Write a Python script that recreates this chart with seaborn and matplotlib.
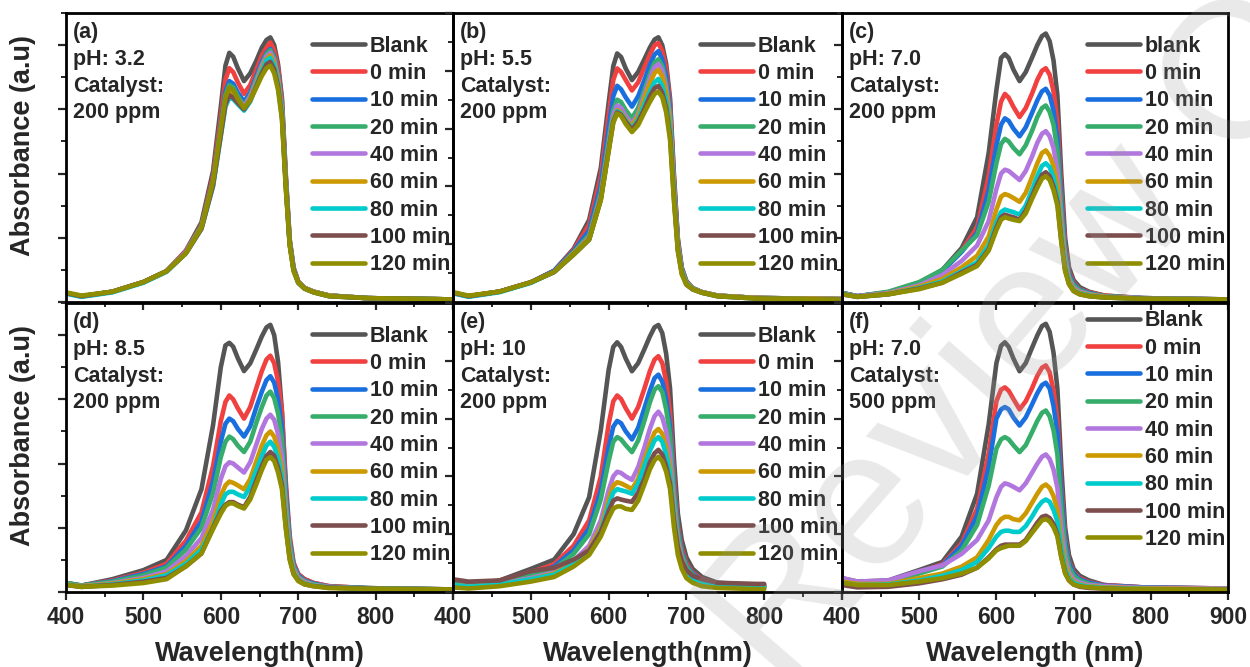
import numpy as np
import pandas as pd
import matplotlib
matplotlib.use("Agg")
import matplotlib.pyplot as plt
import seaborn as sns
from matplotlib.ticker import MultipleLocator

# wavelength grid (nm)
WL = [400, 420, 460, 500, 530, 555, 575, 590, 600, 606, 611, 616, 622, 630, 638, 646,
      653, 659, 664, 669, 674, 679, 684, 689, 694, 700, 708, 720, 740, 790, 900]
# panel (e) was only recorded to 800 nm
WL_E = [400, 420, 460, 500, 530, 555, 575, 590, 600, 606, 611, 616, 622, 630, 638, 646,
        653, 659, 664, 669, 674, 679, 684, 689, 694, 700, 708, 720, 740, 790, 800]

LABELS = ["Blank", "0 min", "10 min", "20 min", "40 min", "60 min",
          "80 min", "100 min", "120 min"]
COLORS = ["#555555", "#F14040", "#1A6FDF", "#37AD6B", "#B177DE",
          "#CC9900", "#00CBCC", "#7D4E4E", "#8E8E00"]

# (a) pH 3.2, 200 ppm
PANEL_A = [
    [0.07, 0.045, 0.08, 0.155, 0.24, 0.40, 0.62, 1.02, 1.52, 1.84, 1.94, 1.91, 1.82, 1.72, 1.78, 1.88, 1.98, 2.04, 2.06, 2.00, 1.85, 1.59, 0.99, 0.49, 0.27, 0.16, 0.11, 0.08, 0.05, 0.03, 0.02],
    [0.07, 0.045, 0.08, 0.155, 0.24, 0.40, 0.60, 0.98, 1.44, 1.73, 1.82, 1.79, 1.71, 1.62, 1.69, 1.81, 1.92, 1.98, 2.02, 1.96, 1.82, 1.56, 0.97, 0.48, 0.26, 0.16, 0.11, 0.08, 0.05, 0.03, 0.02],
    [0.07, 0.045, 0.08, 0.155, 0.24, 0.39, 0.59, 0.95, 1.38, 1.64, 1.72, 1.70, 1.63, 1.56, 1.63, 1.76, 1.87, 1.94, 1.97, 1.91, 1.77, 1.52, 0.95, 0.47, 0.26, 0.16, 0.11, 0.08, 0.05, 0.03, 0.02],
    [0.07, 0.045, 0.08, 0.155, 0.24, 0.39, 0.59, 0.94, 1.36, 1.61, 1.69, 1.67, 1.60, 1.53, 1.61, 1.74, 1.85, 1.93, 1.96, 1.90, 1.76, 1.51, 0.94, 0.47, 0.26, 0.16, 0.11, 0.08, 0.05, 0.03, 0.02],
    [0.07, 0.045, 0.08, 0.155, 0.24, 0.39, 0.58, 0.93, 1.34, 1.58, 1.66, 1.64, 1.58, 1.52, 1.60, 1.72, 1.84, 1.91, 1.94, 1.88, 1.74, 1.49, 0.93, 0.46, 0.26, 0.16, 0.11, 0.08, 0.05, 0.03, 0.02],
    [0.07, 0.045, 0.08, 0.155, 0.24, 0.38, 0.58, 0.92, 1.32, 1.56, 1.64, 1.62, 1.56, 1.50, 1.58, 1.70, 1.82, 1.89, 1.92, 1.86, 1.72, 1.48, 0.92, 0.46, 0.25, 0.16, 0.11, 0.08, 0.05, 0.03, 0.02],
    [0.065, 0.04, 0.075, 0.15, 0.235, 0.38, 0.57, 0.90, 1.29, 1.52, 1.59, 1.58, 1.54, 1.49, 1.56, 1.69, 1.80, 1.88, 1.90, 1.84, 1.70, 1.46, 0.91, 0.45, 0.25, 0.15, 0.105, 0.075, 0.045, 0.03, 0.02],
    [0.07, 0.045, 0.08, 0.155, 0.24, 0.38, 0.57, 0.91, 1.30, 1.54, 1.61, 1.59, 1.55, 1.50, 1.57, 1.68, 1.78, 1.85, 1.87, 1.81, 1.68, 1.44, 0.90, 0.45, 0.25, 0.15, 0.105, 0.075, 0.045, 0.03, 0.02],
    [0.075, 0.05, 0.08, 0.155, 0.24, 0.38, 0.58, 0.94, 1.35, 1.59, 1.67, 1.65, 1.58, 1.51, 1.57, 1.67, 1.76, 1.82, 1.84, 1.78, 1.65, 1.42, 0.88, 0.44, 0.24, 0.15, 0.105, 0.075, 0.045, 0.03, 0.02],
]

# (b) pH 5.5, 200 ppm
PANEL_B = [
    [0.08, 0.05, 0.09, 0.17, 0.27, 0.46, 0.71, 1.16, 1.72, 2.04, 2.15, 2.12, 2.02, 1.92, 1.99, 2.10, 2.20, 2.27, 2.29, 2.22, 2.06, 1.76, 1.10, 0.55, 0.30, 0.18, 0.12, 0.085, 0.055, 0.035, 0.025],
    [0.08, 0.05, 0.09, 0.17, 0.27, 0.45, 0.67, 1.09, 1.62, 1.92, 2.02, 1.99, 1.92, 1.83, 1.90, 2.03, 2.14, 2.22, 2.24, 2.17, 2.02, 1.72, 1.08, 0.54, 0.29, 0.18, 0.12, 0.085, 0.055, 0.035, 0.025],
    [0.08, 0.05, 0.09, 0.17, 0.27, 0.44, 0.62, 1.01, 1.50, 1.78, 1.87, 1.84, 1.77, 1.69, 1.78, 1.92, 2.05, 2.14, 2.17, 2.10, 1.95, 1.67, 1.04, 0.52, 0.29, 0.17, 0.12, 0.085, 0.055, 0.035, 0.025],
    [0.08, 0.05, 0.09, 0.17, 0.26, 0.43, 0.58, 0.95, 1.40, 1.66, 1.75, 1.73, 1.66, 1.59, 1.68, 1.83, 1.97, 2.07, 2.10, 2.04, 1.89, 1.62, 1.01, 0.50, 0.28, 0.17, 0.12, 0.085, 0.055, 0.035, 0.025],
    [0.08, 0.05, 0.09, 0.17, 0.26, 0.42, 0.56, 0.92, 1.36, 1.62, 1.70, 1.68, 1.61, 1.54, 1.63, 1.79, 1.93, 2.03, 2.06, 2.00, 1.85, 1.59, 0.99, 0.49, 0.27, 0.16, 0.115, 0.085, 0.055, 0.035, 0.025],
    [0.08, 0.05, 0.09, 0.17, 0.26, 0.42, 0.55, 0.90, 1.33, 1.58, 1.66, 1.64, 1.58, 1.52, 1.61, 1.76, 1.89, 1.98, 2.01, 1.95, 1.81, 1.55, 0.96, 0.48, 0.27, 0.16, 0.115, 0.085, 0.055, 0.035, 0.025],
    [0.075, 0.045, 0.085, 0.165, 0.26, 0.41, 0.54, 0.89, 1.32, 1.57, 1.65, 1.63, 1.57, 1.50, 1.58, 1.71, 1.82, 1.90, 1.93, 1.87, 1.74, 1.49, 0.93, 0.46, 0.26, 0.155, 0.11, 0.08, 0.05, 0.03, 0.02],
    [0.08, 0.05, 0.09, 0.17, 0.26, 0.41, 0.54, 0.89, 1.31, 1.56, 1.64, 1.62, 1.56, 1.49, 1.56, 1.67, 1.78, 1.85, 1.87, 1.81, 1.68, 1.44, 0.90, 0.45, 0.25, 0.15, 0.11, 0.08, 0.05, 0.03, 0.02],
    [0.085, 0.055, 0.09, 0.17, 0.26, 0.41, 0.54, 0.88, 1.30, 1.55, 1.63, 1.61, 1.54, 1.47, 1.53, 1.64, 1.73, 1.80, 1.82, 1.77, 1.64, 1.40, 0.87, 0.44, 0.24, 0.15, 0.11, 0.08, 0.05, 0.03, 0.02],
]

# (c) pH 7.0, 200 ppm
PANEL_C = [
    [0.07, 0.045, 0.075, 0.15, 0.25, 0.42, 0.66, 1.16, 1.65, 1.90, 1.93, 1.90, 1.81, 1.72, 1.79, 1.90, 2.00, 2.07, 2.09, 2.03, 1.88, 1.61, 1.00, 0.50, 0.27, 0.17, 0.115, 0.08, 0.05, 0.03, 0.02],
    [0.07, 0.045, 0.075, 0.15, 0.24, 0.40, 0.58, 0.98, 1.38, 1.56, 1.62, 1.59, 1.52, 1.44, 1.51, 1.62, 1.73, 1.80, 1.82, 1.77, 1.64, 1.40, 0.87, 0.44, 0.24, 0.15, 0.10, 0.075, 0.05, 0.03, 0.02],
    [0.07, 0.045, 0.075, 0.15, 0.24, 0.39, 0.54, 0.87, 1.22, 1.38, 1.43, 1.41, 1.35, 1.29, 1.36, 1.47, 1.57, 1.64, 1.66, 1.61, 1.49, 1.28, 0.80, 0.40, 0.22, 0.14, 0.095, 0.07, 0.045, 0.03, 0.02],
    [0.07, 0.045, 0.08, 0.155, 0.25, 0.40, 0.52, 0.78, 1.08, 1.23, 1.27, 1.25, 1.20, 1.15, 1.22, 1.33, 1.44, 1.51, 1.53, 1.48, 1.38, 1.18, 0.73, 0.37, 0.20, 0.13, 0.09, 0.065, 0.045, 0.03, 0.02],
    [0.065, 0.045, 0.07, 0.13, 0.21, 0.32, 0.44, 0.63, 0.88, 1.00, 1.03, 1.02, 0.99, 0.95, 1.02, 1.13, 1.24, 1.31, 1.33, 1.29, 1.20, 1.02, 0.64, 0.32, 0.18, 0.11, 0.08, 0.06, 0.04, 0.03, 0.02],
    [0.065, 0.04, 0.065, 0.12, 0.18, 0.27, 0.36, 0.51, 0.72, 0.82, 0.84, 0.83, 0.81, 0.78, 0.85, 0.97, 1.08, 1.16, 1.18, 1.14, 1.06, 0.91, 0.57, 0.29, 0.16, 0.10, 0.07, 0.055, 0.04, 0.025, 0.02],
    [0.065, 0.04, 0.06, 0.11, 0.16, 0.24, 0.31, 0.44, 0.62, 0.70, 0.72, 0.71, 0.70, 0.68, 0.75, 0.87, 0.98, 1.06, 1.08, 1.05, 0.97, 0.83, 0.52, 0.27, 0.15, 0.09, 0.065, 0.05, 0.035, 0.025, 0.02],
    [0.06, 0.04, 0.06, 0.105, 0.15, 0.23, 0.29, 0.41, 0.58, 0.66, 0.68, 0.67, 0.66, 0.64, 0.71, 0.82, 0.92, 0.99, 1.01, 0.98, 0.90, 0.78, 0.48, 0.25, 0.14, 0.085, 0.06, 0.045, 0.035, 0.025, 0.02],
    [0.06, 0.04, 0.06, 0.10, 0.15, 0.22, 0.28, 0.40, 0.56, 0.64, 0.66, 0.65, 0.64, 0.63, 0.69, 0.80, 0.89, 0.96, 0.98, 0.95, 0.87, 0.75, 0.47, 0.24, 0.14, 0.085, 0.06, 0.045, 0.035, 0.025, 0.02],
]

# (d) pH 8.5, 200 ppm
PANEL_D = [
    [0.07, 0.05, 0.10, 0.17, 0.25, 0.48, 0.80, 1.30, 1.75, 1.92, 1.94, 1.91, 1.82, 1.72, 1.78, 1.89, 1.99, 2.06, 2.08, 2.00, 1.79, 1.41, 0.80, 0.40, 0.22, 0.14, 0.10, 0.07, 0.045, 0.03, 0.02],
    [0.07, 0.05, 0.09, 0.15, 0.22, 0.40, 0.62, 0.98, 1.33, 1.48, 1.53, 1.50, 1.43, 1.35, 1.44, 1.59, 1.72, 1.81, 1.84, 1.78, 1.64, 1.40, 0.86, 0.44, 0.23, 0.14, 0.10, 0.07, 0.045, 0.03, 0.02],
    [0.07, 0.05, 0.085, 0.14, 0.20, 0.36, 0.55, 0.86, 1.17, 1.31, 1.35, 1.33, 1.27, 1.21, 1.29, 1.44, 1.56, 1.65, 1.68, 1.63, 1.50, 1.28, 0.79, 0.40, 0.21, 0.13, 0.09, 0.065, 0.04, 0.03, 0.02],
    [0.07, 0.05, 0.08, 0.13, 0.19, 0.33, 0.50, 0.77, 1.05, 1.17, 1.21, 1.19, 1.14, 1.09, 1.17, 1.32, 1.44, 1.53, 1.56, 1.51, 1.39, 1.19, 0.73, 0.37, 0.20, 0.12, 0.085, 0.06, 0.04, 0.03, 0.02],
    [0.06, 0.045, 0.07, 0.11, 0.16, 0.28, 0.42, 0.64, 0.88, 0.98, 1.01, 1.00, 0.97, 0.93, 1.01, 1.15, 1.27, 1.35, 1.38, 1.34, 1.23, 1.05, 0.65, 0.33, 0.18, 0.11, 0.08, 0.055, 0.04, 0.025, 0.02],
    [0.06, 0.045, 0.065, 0.10, 0.14, 0.24, 0.36, 0.55, 0.75, 0.83, 0.86, 0.85, 0.83, 0.80, 0.88, 1.02, 1.14, 1.22, 1.25, 1.21, 1.11, 0.95, 0.59, 0.30, 0.16, 0.10, 0.07, 0.05, 0.035, 0.025, 0.02],
    [0.06, 0.04, 0.06, 0.09, 0.13, 0.22, 0.33, 0.50, 0.68, 0.76, 0.78, 0.78, 0.76, 0.74, 0.82, 0.95, 1.06, 1.14, 1.17, 1.13, 1.04, 0.89, 0.55, 0.28, 0.15, 0.095, 0.065, 0.05, 0.035, 0.025, 0.02],
    [0.055, 0.04, 0.055, 0.08, 0.11, 0.20, 0.30, 0.50, 0.63, 0.68, 0.70, 0.70, 0.68, 0.66, 0.74, 0.87, 0.98, 1.06, 1.09, 1.06, 0.97, 0.83, 0.51, 0.26, 0.14, 0.09, 0.06, 0.045, 0.035, 0.025, 0.02],
    [0.055, 0.04, 0.05, 0.07, 0.10, 0.20, 0.30, 0.49, 0.61, 0.67, 0.69, 0.69, 0.67, 0.65, 0.72, 0.84, 0.95, 1.03, 1.05, 1.02, 0.93, 0.80, 0.49, 0.25, 0.14, 0.085, 0.06, 0.045, 0.03, 0.025, 0.02],
]

# (e) pH 10, 200 ppm
PANEL_E = [
    [0.08, 0.06, 0.10, 0.20, 0.28, 0.50, 0.82, 1.40, 1.92, 2.12, 2.16, 2.12, 2.02, 1.91, 1.98, 2.10, 2.21, 2.29, 2.31, 2.24, 2.06, 1.76, 1.15, 0.68, 0.45, 0.30, 0.20, 0.13, 0.08, 0.06, 0.06],
    [0.08, 0.06, 0.09, 0.17, 0.24, 0.40, 0.62, 1.00, 1.45, 1.65, 1.70, 1.67, 1.59, 1.50, 1.60, 1.76, 1.91, 2.01, 2.04, 1.98, 1.82, 1.55, 1.00, 0.58, 0.38, 0.25, 0.17, 0.11, 0.07, 0.05, 0.05],
    [0.07, 0.05, 0.08, 0.15, 0.22, 0.36, 0.55, 0.88, 1.25, 1.43, 1.48, 1.46, 1.39, 1.32, 1.42, 1.59, 1.74, 1.85, 1.88, 1.82, 1.67, 1.43, 0.92, 0.54, 0.35, 0.23, 0.16, 0.10, 0.07, 0.05, 0.05],
    [0.07, 0.05, 0.08, 0.14, 0.20, 0.33, 0.50, 0.80, 1.13, 1.30, 1.34, 1.32, 1.27, 1.21, 1.31, 1.48, 1.64, 1.75, 1.78, 1.73, 1.58, 1.35, 0.87, 0.51, 0.33, 0.22, 0.15, 0.09, 0.06, 0.045, 0.045],
    [0.06, 0.045, 0.07, 0.12, 0.17, 0.27, 0.40, 0.62, 0.88, 1.00, 1.04, 1.03, 1.00, 0.97, 1.08, 1.25, 1.41, 1.52, 1.56, 1.51, 1.39, 1.19, 0.76, 0.45, 0.29, 0.19, 0.13, 0.08, 0.055, 0.04, 0.04],
    [0.06, 0.045, 0.065, 0.11, 0.16, 0.25, 0.37, 0.56, 0.80, 0.92, 0.95, 0.94, 0.92, 0.89, 0.98, 1.14, 1.28, 1.38, 1.41, 1.37, 1.25, 1.07, 0.69, 0.41, 0.27, 0.18, 0.12, 0.075, 0.05, 0.04, 0.04],
    [0.06, 0.045, 0.065, 0.11, 0.15, 0.24, 0.35, 0.53, 0.75, 0.86, 0.89, 0.88, 0.87, 0.85, 0.94, 1.09, 1.22, 1.31, 1.34, 1.30, 1.19, 1.02, 0.66, 0.39, 0.26, 0.17, 0.11, 0.07, 0.05, 0.035, 0.035],
    [0.11, 0.09, 0.10, 0.18, 0.21, 0.28, 0.36, 0.52, 0.70, 0.79, 0.81, 0.80, 0.79, 0.78, 0.86, 0.98, 1.12, 1.20, 1.23, 1.19, 1.09, 0.94, 0.62, 0.39, 0.27, 0.19, 0.14, 0.11, 0.08, 0.07, 0.07],
    [0.04, 0.03, 0.05, 0.09, 0.13, 0.22, 0.32, 0.48, 0.64, 0.72, 0.74, 0.74, 0.72, 0.71, 0.79, 0.93, 1.06, 1.14, 1.17, 1.13, 1.04, 0.89, 0.56, 0.32, 0.20, 0.12, 0.08, 0.05, 0.035, 0.025, 0.025],
]

# (f) pH 7.0, 500 ppm
PANEL_F = [
    [0.12, 0.09, 0.10, 0.19, 0.26, 0.48, 0.85, 1.45, 1.98, 2.13, 2.16, 2.12, 2.02, 1.91, 1.98, 2.11, 2.22, 2.30, 2.32, 2.25, 2.07, 1.76, 1.09, 0.56, 0.32, 0.20, 0.14, 0.10, 0.06, 0.04, 0.03],
    [0.11, 0.08, 0.09, 0.17, 0.24, 0.42, 0.72, 1.20, 1.65, 1.75, 1.77, 1.74, 1.67, 1.58, 1.65, 1.76, 1.87, 1.94, 1.96, 1.90, 1.74, 1.49, 0.92, 0.48, 0.27, 0.17, 0.12, 0.085, 0.06, 0.04, 0.03],
    [0.11, 0.08, 0.09, 0.17, 0.23, 0.40, 0.66, 1.08, 1.50, 1.58, 1.60, 1.58, 1.51, 1.44, 1.51, 1.62, 1.72, 1.79, 1.81, 1.76, 1.61, 1.38, 0.85, 0.45, 0.25, 0.16, 0.11, 0.08, 0.055, 0.04, 0.03],
    [0.11, 0.08, 0.09, 0.16, 0.22, 0.36, 0.58, 0.92, 1.24, 1.32, 1.34, 1.32, 1.27, 1.21, 1.27, 1.38, 1.48, 1.55, 1.57, 1.52, 1.40, 1.19, 0.74, 0.39, 0.22, 0.14, 0.10, 0.07, 0.05, 0.035, 0.03],
    [0.12, 0.09, 0.10, 0.18, 0.23, 0.33, 0.45, 0.62, 0.82, 0.91, 0.94, 0.93, 0.91, 0.88, 0.94, 1.03, 1.11, 1.17, 1.19, 1.15, 1.06, 0.90, 0.56, 0.30, 0.17, 0.11, 0.08, 0.06, 0.05, 0.035, 0.03],
    [0.09, 0.07, 0.07, 0.12, 0.16, 0.22, 0.30, 0.45, 0.58, 0.63, 0.65, 0.65, 0.63, 0.62, 0.68, 0.77, 0.85, 0.91, 0.93, 0.90, 0.83, 0.71, 0.44, 0.24, 0.14, 0.09, 0.065, 0.05, 0.04, 0.03, 0.025],
    [0.08, 0.06, 0.065, 0.10, 0.14, 0.19, 0.26, 0.38, 0.48, 0.52, 0.53, 0.53, 0.52, 0.52, 0.57, 0.65, 0.73, 0.78, 0.80, 0.78, 0.71, 0.61, 0.38, 0.20, 0.12, 0.08, 0.06, 0.045, 0.035, 0.025, 0.02],
    [0.06, 0.04, 0.045, 0.075, 0.11, 0.15, 0.21, 0.30, 0.37, 0.40, 0.41, 0.41, 0.41, 0.41, 0.45, 0.53, 0.60, 0.65, 0.66, 0.64, 0.59, 0.50, 0.31, 0.17, 0.10, 0.065, 0.045, 0.035, 0.03, 0.02, 0.02],
    [0.08, 0.06, 0.06, 0.09, 0.12, 0.16, 0.21, 0.29, 0.36, 0.38, 0.39, 0.40, 0.40, 0.40, 0.44, 0.51, 0.57, 0.62, 0.63, 0.61, 0.56, 0.48, 0.30, 0.16, 0.10, 0.065, 0.05, 0.04, 0.03, 0.025, 0.02],
]

NOTES = ["(a)\npH: 3.2\nCatalyst:\n200 ppm", "(b)\npH: 5.5\nCatalyst:\n200 ppm",
         "(c)\npH: 7.0\nCatalyst:\n200 ppm", "(d)\npH: 8.5\nCatalyst:\n200 ppm",
         "(e)\npH: 10\nCatalyst:\n200 ppm", "(f)\npH: 7.0\nCatalyst:\n500 ppm"]
XLABELS = ["Wavelength(nm)", "Wavelength(nm)", "Wavelength (nm)"]


def main():
    sns.set_style("ticks")
    plt.rcParams["font.family"] = ["Liberation Sans", "DejaVu Sans"]
    plt.rcParams["font.weight"] = "bold"
    plt.rcParams["axes.labelweight"] = "bold"

    fig = plt.figure(figsize=(12.5, 6.67), dpi=100)
    W, H = 1250, 667
    cols = [(66, 453), (453, 842), (842, 1228)]
    rows = [(13, 302), (303, 592)]

    panels = [PANEL_A, PANEL_B, PANEL_C, PANEL_D, PANEL_E, PANEL_F]
    grids = [WL, WL, WL, WL, WL_E, WL]
    tops = [2.25, 2.5, 2.25, 2.25, 2.5, 2.5]

    for i, data in enumerate(panels):
        r, c = divmod(i, 3)
        x0, x1 = cols[c]
        y0, y1 = rows[r]
        ax = fig.add_axes([x0 / W, 1 - y1 / H, (x1 - x0) / W, (y1 - y0) / H])
        ax.patch.set_visible(False)   # let legend text run over the next panel

        labels = list(LABELS)
        if i == 2:
            labels[0] = "blank"
        df = pd.DataFrame({
            "wl": np.tile(grids[i], len(labels)),
            "A": np.concatenate(data),
            "series": np.repeat(labels, len(grids[i])),
        })
        sns.lineplot(data=df, x="wl", y="A", hue="series", hue_order=labels,
                     palette=COLORS, linewidth=3.3, legend=False, sort=False,
                     estimator=None, ax=ax)
        for ln in ax.lines:
            ln.set_solid_joinstyle("round")

        ax.set_xlim(400, 900)
        ax.set_ylim(0, tops[i])
        ax.xaxis.set_major_locator(MultipleLocator(100))
        ax.xaxis.set_minor_locator(MultipleLocator(50))
        ax.yaxis.set_major_locator(MultipleLocator(0.5))
        ax.yaxis.set_minor_locator(MultipleLocator(0.25))
        ax.tick_params(which="major", direction="out", length=6, width=1.6,
                       labelsize=16.5, left=True, bottom=True, labelleft=False,
                       pad=4)
        ax.tick_params(which="minor", direction="out", length=3.5, width=1.4,
                       left=True, bottom=True)
        for sp in ax.spines.values():
            sp.set_linewidth(2.0)
            sp.set_color("black")

        if r == 0:
            ax.tick_params(labelbottom=False)
            ax.set_xlabel("")
        else:
            ticks = [400, 500, 600, 700, 800, 900]
            ax.set_xticks(ticks)
            ax.set_xticklabels([str(t) if (t < 900 or c == 2) else "" for t in ticks])
            ax.set_xlabel(XLABELS[c], fontsize=19.5, labelpad=9)
        if c == 0:
            ax.set_ylabel("Absorbance (a.u)", fontsize=19.5)
            ax.yaxis.set_label_coords(-0.078, 0.54)
        else:
            ax.set_ylabel("")

        ax.text(0.018, 0.97, NOTES[i], transform=ax.transAxes, ha="left",
                va="top", fontsize=15.5, fontweight="bold", linespacing=1.37)

        top_y = 0.975 if i == 5 else 0.922
        leg = ax.legend(ax.lines, labels, loc="upper left",
                        bbox_to_anchor=(0.636, top_y), frameon=False,
                        fontsize=15.5, handlelength=2.45, handletextpad=0.22,
                        labelspacing=0.295, borderpad=0, borderaxespad=0)
        for ln in leg.get_lines():
            ln.set_linewidth(3.3)

    # faint diagonal review watermark laid over the whole figure
    fig.text(0.790, 0.435, "For Review Only", rotation=49, fontsize=140,
             color="#9a9a9a", alpha=0.22, ha="center", va="center",
             fontweight="normal", zorder=10)

    fig.savefig("out.png", dpi=100)


if __name__ == "__main__":
    main()
